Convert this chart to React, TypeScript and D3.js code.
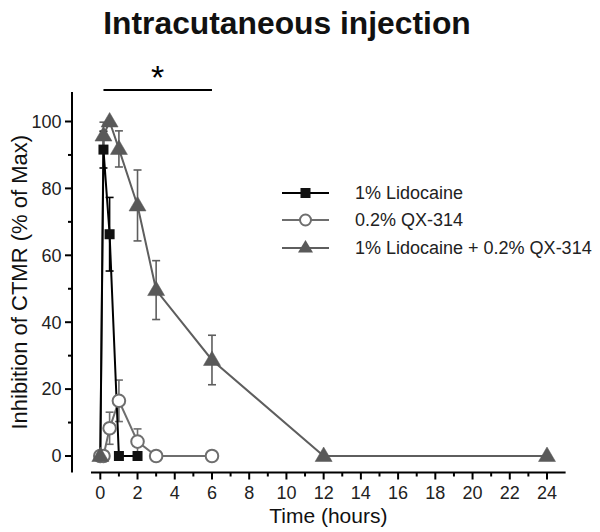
import React from "react";
import * as d3 from "d3";

const lidoTime = [0, 0.17, 0.5, 1, 2];
const lidoMean = [0, 91.6, 66.3, 0, 0];
const lidoErr = [0, 5.5, 11, 0, 0];

const qxTime = [0, 0.17, 0.5, 1, 2, 3, 6];
const qxMean = [0, 0, 8.3, 16.5, 4.3, 0, 0];
const qxErr = [0, 0, 4.8, 6.2, 3.8, 0, 0];

const comboTime = [0, 0.17, 0.5, 1, 2, 3, 6, 12, 24];
const comboMean = [0, 95.8, 100, 91.8, 74.9, 49.6, 28.7, 0, 0];
const comboErr = [0, 4, 0, 5.4, 10.6, 8.8, 7.4, 0, 0];

const xMajorTicks = [0, 2, 4, 6, 8, 10, 12, 14, 16, 18, 20, 22, 24];
const xMinorTicks = [1, 3, 5, 7, 9, 11, 13, 15, 17, 19, 21, 23];
const yMajorTicks = [0, 20, 40, 60, 80, 100];
const yMinorTicks = [10, 30, 50, 70, 90];

const legendLabels = ["1% Lidocaine", "0.2% QX-314", "1% Lidocaine + 0.2% QX-314"];
const sigRange = [0.17, 6];

const FONT = "'Liberation Sans', Arial, sans-serif";

export default function App() {
  const x = d3.scaleLinear().domain([0, 24]).range([100.3, 547]);
  const y = d3.scaleLinear().domain([0, 100]).range([456, 121.5]);
  const xAxisY = 472.5;
  const yAxisX = 72;

  const line = d3
    .line<[number, number]>()
    .x((d) => x(d[0]))
    .y((d) => y(d[1]));

  const zip = (t: number[], v: number[]) => t.map((tt, i) => [tt, v[i]] as [number, number]);

  const lidoColor = "#000";
  const qxColor = "#6e6e6e";
  const comboLine = "#5e5e5e";
  const comboFill = "#595959";

  const tri = (cx: number, cy: number) =>
    `M${cx},${cy - 9}L${cx + 8.5},${cy + 5.5}L${cx - 8.5},${cy + 5.5}Z`;

  const errBars = (t: number[], m: number[], e: number[], color: string, key: string) =>
    t.map((tt, i) =>
      e[i] > 0 ? (
        <g key={key + i} stroke={color} strokeWidth={1.6}>
          <line x1={x(tt)} x2={x(tt)} y1={y(m[i] - e[i])} y2={y(m[i] + e[i])} />
          <line x1={x(tt) - 4} x2={x(tt) + 4} y1={y(m[i] + e[i])} y2={y(m[i] + e[i])} />
          <line x1={x(tt) - 4} x2={x(tt) + 4} y1={y(m[i] - e[i])} y2={y(m[i] - e[i])} />
        </g>
      ) : null
    );

  const legendY = [193, 220, 248];

  return (
    <svg
      width={600}
      height={532}
      style={{ position: "absolute", left: 0, top: 0, background: "#fff" }}
      fontFamily={FONT}
    >
      {/* Title */}
      <text x={287} y={33.5} textAnchor="middle" fontSize={31.8} fontWeight="bold" fill="#111">
        Intracutaneous injection
      </text>

      {/* significance bar */}
      <line x1={x(sigRange[0])} x2={x(sigRange[1])} y1={90} y2={90} stroke="#000" strokeWidth={2} />
      <text x={(x(sigRange[0]) + x(sigRange[1])) / 2} y={89} textAnchor="middle" fontSize={34} fill="#000">
        *
      </text>

      {/* Y axis */}
      <line x1={yAxisX} x2={yAxisX} y1={y(108.8)} y2={xAxisY} stroke="#000" strokeWidth={2} />
      {yMajorTicks.map((v) => (
        <g key={"ym" + v}>
          <line x1={yAxisX - 7} x2={yAxisX} y1={y(v)} y2={y(v)} stroke="#000" strokeWidth={2} />
          <text x={61.5} y={y(v)} dy="0.35em" textAnchor="end" fontSize={18} fill="#222">
            {v}
          </text>
        </g>
      ))}
      {yMinorTicks.map((v) => (
        <line key={"yn" + v} x1={yAxisX - 4} x2={yAxisX} y1={y(v)} y2={y(v)} stroke="#000" strokeWidth={2} />
      ))}
      <text
        transform={`translate(27,${(y(108.8) + xAxisY) / 2}) rotate(-90)`}
        textAnchor="middle"
        fontSize={22}
        fill="#111"
      >
        Inhibition of CTMR (% of Max)
      </text>

      {/* X axis */}
      <line x1={x(-0.5)} x2={x(25)} y1={xAxisY} y2={xAxisY} stroke="#000" strokeWidth={2} />
      {xMajorTicks.map((v) => (
        <g key={"xm" + v}>
          <line x1={x(v)} x2={x(v)} y1={xAxisY} y2={xAxisY + 7} stroke="#000" strokeWidth={2} />
          <text x={x(v)} y={498.5} textAnchor="middle" fontSize={18} fill="#222">
            {v}
          </text>
        </g>
      ))}
      {xMinorTicks.map((v) => (
        <line key={"xn" + v} x1={x(v)} x2={x(v)} y1={xAxisY} y2={xAxisY + 4} stroke="#000" strokeWidth={2} />
      ))}
      <text x={(x(-0.5) + x(25)) / 2} y={523} textAnchor="middle" fontSize={21} fill="#111">
        Time (hours)
      </text>

      {/* Error bars */}
      {errBars(comboTime, comboMean, comboErr, comboLine, "ce")}
      {errBars(qxTime, qxMean, qxErr, qxColor, "qe")}
      {errBars(lidoTime, lidoMean, lidoErr, lidoColor, "le")}

      {/* Lines */}
      <path d={line(zip(comboTime, comboMean)) || ""} fill="none" stroke={comboLine} strokeWidth={2} />
      <path d={line(zip(qxTime, qxMean)) || ""} fill="none" stroke={qxColor} strokeWidth={2} />
      <path d={line(zip(lidoTime, lidoMean)) || ""} fill="none" stroke={lidoColor} strokeWidth={2} />

      {/* Markers */}
      {lidoTime.map((t, i) => (
        <rect key={"ls" + i} x={x(t) - 5} y={y(lidoMean[i]) - 5} width={10} height={10} fill="#111" />
      ))}
      {qxTime.map((t, i) => (
        <circle key={"qc" + i} cx={x(t)} cy={y(qxMean[i])} r={6.3} fill="#fff" stroke={qxColor} strokeWidth={2} />
      ))}
      {comboTime.map((t, i) => (
        <path key={"ct" + i} d={tri(x(t), y(comboMean[i]))} fill={comboFill} stroke={comboFill} strokeWidth={0.5} />
      ))}

      {/* Legend */}
      {legendLabels.map((lab, i) => {
        const ly = legendY[i];
        const color = i === 0 ? lidoColor : i === 1 ? qxColor : comboLine;
        return (
          <g key={"lg" + i}>
            <line x1={282} x2={329} y1={ly} y2={ly} stroke={color} strokeWidth={2} />
            {i === 0 && <rect x={300.5} y={ly - 5} width={10} height={10} fill="#111" />}
            {i === 1 && <circle cx={305.5} cy={ly} r={5.5} fill="#fff" stroke={qxColor} strokeWidth={2} />}
            {i === 2 && <path d={`M305.5,${ly - 8}L313,${ly + 4.5}L298,${ly + 4.5}Z`} fill={comboFill} />}
            <text x={355} y={ly} dy="0.35em" fontSize={18} fill="#222">
              {lab}
            </text>
          </g>
        );
      })}
    </svg>
  );
}
